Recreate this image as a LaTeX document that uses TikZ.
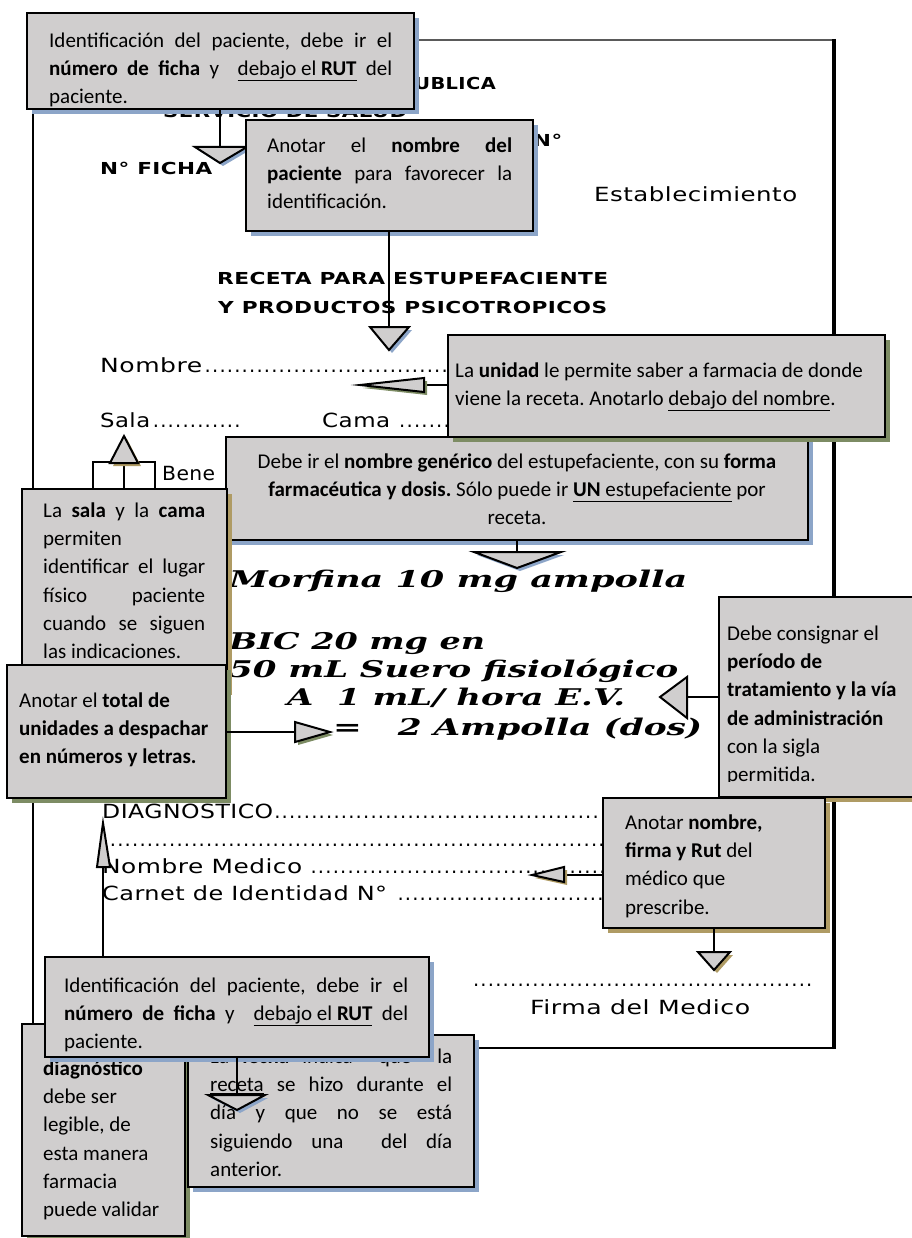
\documentclass[tikz,border=0pt]{standalone}
\usepackage{fontspec}
\usepackage{graphicx}
\setmainfont{Carlito}
\newfontfamily\formfont{DejaVu Sans}[LetterSpace=2]
\newfontfamily\handfont{DejaVu Serif}
\usetikzlibrary{shadows}
\definecolor{boxgray}{RGB}{208,206,206}
\definecolor{shblue}{RGB}{140,165,200}
\definecolor{shkhaki}{RGB}{175,155,100}
\definecolor{shgreen}{RGB}{125,140,100}
\definecolor{topgray}{RGB}{90,90,90}
\newcommand\jl[2]{\makebox[#1][s]{#2}}
\newcommand\fw[2]{\resizebox{#1}{\height}{#2}}
\newcommand\lineto[2]{\makebox[#1][l]{#2\cleaders\hbox to 7.4pt{\hss.\hss}\hfill}}
\newcommand\arrowhead[4]{%
  \fill[#4, shift={(3pt,-3pt)}] #1 -- #2 -- #3 -- cycle;
  \filldraw[tri] #1 -- #2 -- #3 -- cycle;}
\frenchspacing
\begin{document}
\begin{tikzpicture}[x=1pt,y=-1pt,
  box/.style={draw=black, line width=2.4pt, fill=boxgray, inner sep=0pt, outer sep=0pt, anchor=north west,
    drop shadow={shadow xshift=5pt, shadow yshift=-5pt, fill=#1, opacity=1}},
  box/.default=shblue,
  txt/.style={font=\frenchspacing\fontsize{21}{28.3}\selectfont, inner sep=0pt, anchor=north west, align=left, yshift=19.8pt},
  formtxt/.style={font=\formfont\fontsize{19.5}{23}\selectfont, inner sep=0pt, anchor=base west},
  formbold/.style={font=\formfont\bfseries\fontsize{16.5}{20}\selectfont, inner sep=0pt, anchor=base west},
  hand/.style={font=\handfont\bfseries\itshape\fontsize{23}{28}\selectfont, inner sep=0pt, anchor=base west},
  stem/.style={line width=2.6pt, black},
  tri/.style={fill=boxgray, draw=black, line width=2pt, line join=miter}]
\useasboundingbox (0,0) rectangle (911,1238);
% form outline
\draw[line width=1.6pt, topgray] (33,40) -- (835,40);
\draw[line width=1.8pt] (33,40) -- (33,1048);
\draw[line width=2.5pt] (33,1048) -- (835,1048);
\draw[line width=3.5pt] (834,39) -- (834,1049);
% form texts
\node[formbold, anchor=base east] (rep) at (496,90) {\fw{125pt}{REPUBLICA}};
\node[formbold] (serv) at (163,118) {\fw{244pt}{SERVICIO DE SALUD}};
\node[formbold] (folio) at (533,147) {\fw{29pt}{N°}};
\node[formbold] (ficha) at (100,175) {\fw{112pt}{N° FICHA}};
\node[formtxt] (estab) at (594,202) {\fw{203pt}{Establecimiento}};
\node[formbold] (rec1) at (217,285) {\fw{391pt}{RECETA PARA ESTUPEFACIENTE}};
\node[formbold] (rec2) at (218,313) {\fw{389pt}{Y PRODUCTOS PSICOTROPICOS}};
\node[formtxt] (nom) at (100,372) {\lineto{350pt}{\fw{102pt}{Nombre}}};
\node[formtxt] (sala) at (100,427) {\lineto{143pt}{\fw{50pt}{Sala}}};
\node[formtxt] (cama) at (322,427) {\lineto{130pt}{\fw{68pt}{Cama} }};
\node[formtxt] (bene) at (162,480) {\fw{53pt}{Bene}};
\node[formtxt] (diag) at (102,818) {\lineto{505pt}{\fw{171pt}{DIAGNOSTICO}}};
\node[formtxt] (diag2) at (107,846) {\lineto{500pt}{}};
\node[formtxt] (nmed) at (102,873) {\lineto{505pt}{\fw{200pt}{Nombre Medico} }};
\node[formtxt] (carnet) at (102,900) {\lineto{505pt}{\fw{285pt}{Carnet de Identidad N°} }};
\node[formtxt] (fdots) at (471,986) {\lineto{343pt}{}};
\node[formtxt] (firma) at (530,1014) {\fw{220pt}{Firma del Medico}};
% handwritten prescription
\node[hand] (h1) at (229,587) {\fw{458pt}{Morfina 10 mg ampolla}};
\node[hand] (h2) at (229,649) {\fw{256pt}{BIC 20 mg en}};
\node[hand] (h3) at (229,677) {\fw{449pt}{50 mL Suero fisiológico}};
\node[hand] (h4) at (287,705) {\fw{338pt}{A~ 1 mL/ hora E.V.}};
\node[hand] (h5) at (333,735) {\fw{369pt}{=~~ 2 Ampolla (dos)}};
% B4 generic name
\node[box, minimum width=582pt, minimum height=103pt] (b4) at (226,437) {};
\node[txt, anchor=north, align=center] (b4t) at (517,468) {\strut Debe ir el \textbf{nombre genérico} del estupefaciente, con su \textbf{forma}\\ \textbf{farmacéutica y dosis.} Sólo puede ir \underline{\textbf{UN} estupefaciente} por\\ receta.};
\coordinate (t4) at (517,552);
\draw[stem] (b4.south -| t4) -- (t4);
\arrowhead{(474,552)}{(561,552)}{(517,568)}{shblue}
% B3 unidad
\node[box=shgreen, minimum width=437pt, minimum height=102pt] (b3) at (448,335) {};
\node[txt] (b3t) at (455,377) {\strut La \textbf{unidad} le permite saber a farmacia de donde\\ viene la receta. Anotarlo \underline{debajo del nombre}.};
\coordinate (t3) at (424,385);
\draw[stem] (b3.west |- t3) -- (t3);
\arrowhead{(424,378)}{(424,392)}{(360,385)}{shgreen}
% B5 sala y cama
\node[box=shkhaki, minimum width=205pt, minimum height=201pt] (b5) at (22,489) {};
\node[txt] (b5t) at (43,517) {\strut\jl{162pt}{La \textbf{sala} y la \textbf{cama}}\\ permiten\\ \jl{162pt}{identificar el lugar}\\ \jl{162pt}{físico paciente}\\ \jl{162pt}{cuando se siguen}\\ las indicaciones.};
\coordinate (t5) at (124,463);
\coordinate (t5l) at (93,462);
\coordinate (t5r) at (155,462);
\draw[stem] (b5.north -| t5l) -- (t5l) -- (t5r) -- (b5.north -| t5r);
\draw[stem] (b5.north -| t5) -- (t5);
\arrowhead{(110,463)}{(138,463)}{(124,436)}{shkhaki}
% B6 total
\node[box=shgreen, minimum width=219pt, minimum height=133pt] (b6) at (7,665) {};
\node[txt] (b6t) at (19,707) {\strut Anotar el \textbf{total de}\\ \textbf{unidades a despachar}\\ \textbf{en números y letras.}};
\coordinate (t6) at (295,732);
\draw[stem] (b6.east |- t6) -- (t6);
\arrowhead{(295,722)}{(295,742)}{(330,732)}{shgreen}
% B1 identificacion (top)
\node[box, minimum width=387pt, minimum height=96pt] (b1) at (27,13) {};
\node[txt] (b1t) at (49,47) {\strut\jl{343pt}{Identificación del paciente, debe ir el}\\ \jl{343pt}{\textbf{número de ficha} y\ \ \underline{debajo\ el\ \textbf{RUT}} del}\\ paciente.};
\coordinate (t1) at (220,147);
\draw[stem] (b1.south -| t1) -- (t1);
\arrowhead{(195,147)}{(247,147)}{(220,163)}{shblue}
% B2 nombre del paciente
\node[box, minimum width=287pt, minimum height=111pt] (b2) at (246,120) {};
\node[txt] (b2t) at (267,152) {\strut\jl{245pt}{Anotar el \textbf{nombre del}}\\ \jl{245pt}{\textbf{paciente} para favorecer la}\\ identificación.};
\coordinate (t2) at (389,327);
\draw[stem] (b2.south -| t2) -- (t2);
\arrowhead{(370,327)}{(409,327)}{(389,350)}{shblue}
% B7 periodo
\node[box=shkhaki, minimum width=220pt, minimum height=200pt] (b7) at (719,597) {};
\begin{scope}
\clip (719,597) rectangle (911,781);
\node[txt] (b7t) at (727,640) {\strut Debe consignar el\\ \textbf{período de}\\ \textbf{tratamiento y la vía}\\ \textbf{de administración}\\ con la sigla\\ permitida.};
\end{scope}
\coordinate (t7) at (687,697);
\draw[stem] (b7.west |- t7) -- (t7);
\arrowhead{(687,677)}{(687,718)}{(660,697)}{opacity=0}
% B8 medico
\node[box=shkhaki, minimum width=222pt, minimum height=130pt] (b8) at (603,798) {};
\node[txt] (b8t) at (625,829) {\strut Anotar \textbf{nombre,}\\ \textbf{firma y Rut} del\\ médico que\\ prescribe.};
\coordinate (t8) at (564,875);
\draw[stem] (b8.west |- t8) -- (t8);
\arrowhead{(564,867)}{(564,882)}{(532,875)}{shkhaki}
\coordinate (t9) at (714,952);
\draw[stem] (b8.south -| t9) -- (t9);
\arrowhead{(698,952)}{(730,952)}{(714,970)}{shkhaki}
% B10 diagnostico
\node[box=shgreen, minimum width=163pt, minimum height=212pt] (b10) at (22,1024) {};
\node[txt] (b10t) at (43,1075) {\strut\textbf{diagnóstico}\\ debe ser\\ legible, de\\ esta manera\\ farmacia\\ puede validar};
% B11 fecha
\node[box, minimum width=286pt, minimum height=152pt] (b11) at (188,1035) {};
\node[txt] (b11t) at (210,1063) {\strut\jl{242pt}{La \textbf{fecha} indica\ \ que\ \ la}\\ \jl{242pt}{\underline{receta} se hizo durante el}\\ \jl{242pt}{día y que no se está}\\ \jl{242pt}{siguiendo una\ \ del día}\\ anterior.};
% B9 identificacion (bottom)
\node[box, minimum width=384pt, minimum height=100pt] (b9) at (45,957) {};
\node[txt] (b9t) at (64,992) {\strut\jl{344pt}{Identificación del paciente, debe ir el}\\ \jl{344pt}{\textbf{número de ficha} y\ \ \underline{debajo\ el\ \textbf{RUT}} del}\\ paciente.};
\coordinate (t10) at (103,867);
\draw[stem] (b9.north -| t10) -- (t10);
\arrowhead{(97,867)}{(110,867)}{(103,823)}{opacity=0}
\coordinate (t11) at (237,1095);
\draw[stem] (b9.south -| t11) -- (t11);
\arrowhead{(208,1095)}{(265,1095)}{(237,1110)}{shblue}
\end{tikzpicture}
\end{document}
